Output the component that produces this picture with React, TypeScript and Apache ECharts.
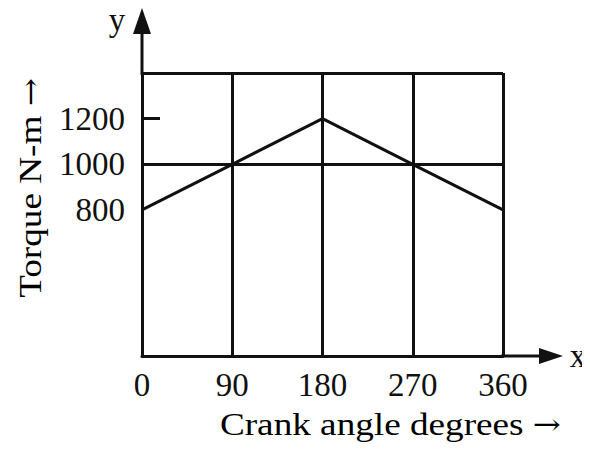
import React, { useEffect, useRef } from "react";
import * as echarts from "echarts";

const crankAngles = [0, 90, 180, 270, 360];
const torqueValues = [800, 1000, 1200, 1000, 800];
const yLabelValues = [800, 1000, 1200];
const yTickValues = [1200];
const horizontalLines = [1000, 1400];
const xAxisName = "Crank angle degrees";
const yAxisName = "Torque N-m";

const FONT = "'Liberation Serif', 'Times New Roman', serif";
const ARROW_FONT = "'DejaVu Serif', serif";
const INK = "#111111";

export default function App() {
  const ref = useRef<HTMLDivElement>(null);
  useEffect(() => {
    if (!ref.current) return;
    const chart = echarts.init(ref.current, null, { renderer: "svg" });
    const gl = 142, gt = 73, gr = 503, gb = 356;
    const nameRich = {
      t: { fontFamily: FONT, fontSize: 31, color: INK },
      a: { fontFamily: ARROW_FONT, fontSize: 28, color: INK },
    };
    chart.setOption({
      animation: false,
      backgroundColor: "#ffffff",
      grid: {
        left: gl,
        top: gt,
        width: gr - gl,
        height: gb - gt,
        outerBoundsMode: "none",
        containLabel: false,
      },
      xAxis: {
        type: "value",
        min: 0,
        max: 360,
        interval: 90,
        axisLine: { show: true, lineStyle: { color: INK, width: 3 } },
        axisTick: { show: false },
        axisLabel: {
          color: INK,
          fontFamily: FONT,
          fontSize: 33,
          margin: 12,
          showMinLabel: true,
          showMaxLabel: true,
          formatter: (v: number) => String(v),
        },
        splitLine: { show: true, lineStyle: { color: INK, width: 3 } },
      },
      yAxis: {
        type: "value",
        min: 160,
        max: 1400,
        axisLine: { show: true, lineStyle: { color: INK, width: 3 } },
        axisTick: {
          show: true,
          inside: true,
          length: 18,
          customValues: yTickValues,
          lineStyle: { color: INK, width: 3 },
        },
        axisLabel: {
          color: INK,
          fontFamily: FONT,
          fontSize: 33,
          margin: 17,
          customValues: yLabelValues,
          formatter: (v: number) => String(v),
        },
        splitLine: { show: false },
      },
      series: [
        {
          type: "line",
          data: crankAngles.map((a, i) => [a, torqueValues[i]]),
          symbol: "none",
          lineStyle: { color: INK, width: 3 },
          markLine: {
            silent: true,
            symbol: "none",
            label: { show: false },
            lineStyle: { color: INK, width: 3, type: "solid" },
            data: horizontalLines.map((v) => ({ yAxis: v })),
          },
        },
      ],
      graphic: [
        { type: "line", shape: { x1: gl, y1: gt + 2, x2: gl, y2: 30 }, style: { stroke: INK, lineWidth: 3 } },
        { type: "polygon", shape: { points: [[gl, 8], [gl - 9, 34], [gl + 9, 34]] }, style: { fill: INK } },
        { type: "line", shape: { x1: gr - 2, y1: gb, x2: 545, y2: gb }, style: { stroke: INK, lineWidth: 3 } },
        { type: "polygon", shape: { points: [[563, gb], [539, gb - 8], [539, gb + 8]] }, style: { fill: INK } },
        {
          type: "text",
          x: 117,
          y: 20,
          style: { text: "y", font: `33px ${FONT}`, fill: INK, align: "center", verticalAlign: "middle" },
        },
        {
          type: "text",
          x: 578,
          y: 356,
          style: { text: "x", font: `33px ${FONT}`, fill: INK, align: "center", verticalAlign: "middle" },
        },
        {
          type: "text",
          x: 561,
          y: 424,
          scaleX: 1.2,
          style: {
            text: `{t|${xAxisName} }{a|→}`,
            rich: nameRich,
            align: "right",
            verticalAlign: "middle",
          },
        },
        {
          type: "text",
          x: 30,
          y: 188,
          rotation: Math.PI / 2,
          scaleX: 1.2,
          style: {
            text: `{t|${yAxisName} }{a|→}`,
            rich: nameRich,
            align: "center",
            verticalAlign: "middle",
          },
        },
      ],
    });
    return () => chart.dispose();
  }, []);
  return <div ref={ref} style={{ width: 590, height: 450, margin: -8 }} />;
}
